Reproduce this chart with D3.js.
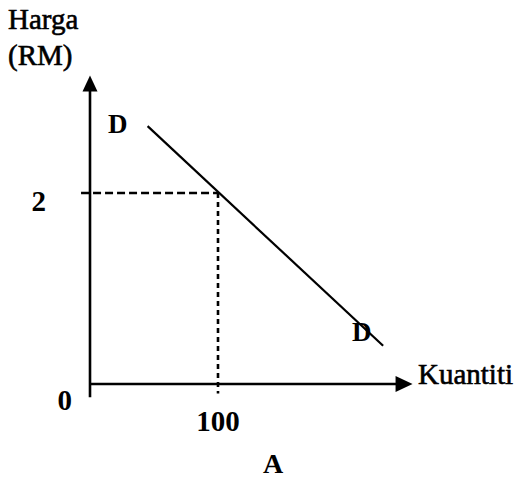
<!DOCTYPE html>
<html>
<head>
<meta charset="utf-8">
<script src="https://cdn.jsdelivr.net/npm/d3@7"></script>
<style>
  body { margin: 0; background: #fff; }
  text { font-family: "Liberation Serif", "Times New Roman", serif; fill: #000; }
  .scan { stroke: #000; stroke-width: 0.6; }
</style>
</head>
<body>
<div class="chart"></div>
<script>
// demand curve D-D
var demandQty = [45, 229];
var demandPrice = [2.70, 0.40];
// the marked point
var pointQty = 100;
var pointPrice = 2;
// tick labels
var xTickLabels = ["100"];
var yTickLabels = ["2"];
var originLabel = "0";
var xTitle = "Kuantiti";
var yTitle = ["Harga", "(RM)"];
var curveLabel = "D";
var panelLabel = "A";

var svgWidth = 520, svgHeight = 481;

var svg = d3.select(".chart")
  .append("svg")
  .attr("width", svgWidth)
  .attr("height", svgHeight);

// scales (origin at 90,384)
var xScale = d3.scaleLinear().domain([0, 100]).range([90, 218]);
var yScale = d3.scaleLinear().domain([0, 2]).range([384, 193]);

var x0 = xScale(0), y0 = yScale(0);
var yTop = yScale(3.23), xEnd = xScale(252);

// axes
svg.append("line")
  .attr("x1", x0).attr("y1", yScale(-0.14))
  .attr("x2", x0).attr("y2", yTop + 10)
  .attr("stroke", "#000").attr("stroke-width", 2.6);

svg.append("path")
  .attr("d", `M${x0},${yTop} L${x0 + 7.5},${yTop + 16} L${x0 - 7.5},${yTop + 16} Z`)
  .attr("fill", "#000");

svg.append("line")
  .attr("x1", x0).attr("y1", y0)
  .attr("x2", xEnd - 10).attr("y2", y0)
  .attr("stroke", "#000").attr("stroke-width", 2.6);

svg.append("path")
  .attr("d", `M${xEnd},${y0} L${xEnd - 17},${y0 - 8} L${xEnd - 17},${y0 + 8} Z`)
  .attr("fill", "#000");

// dashed guides
svg.append("line")
  .attr("x1", xScale(-7)).attr("y1", yScale(pointPrice))
  .attr("x2", xScale(pointQty)).attr("y2", yScale(pointPrice))
  .attr("stroke", "#000").attr("stroke-width", 2.4)
  .attr("stroke-dasharray", "8,4");

svg.append("line")
  .attr("x1", xScale(pointQty)).attr("y1", yScale(pointPrice))
  .attr("x2", xScale(pointQty)).attr("y2", yScale(-0.1))
  .attr("stroke", "#000").attr("stroke-width", 2.6)
  .attr("stroke-dasharray", "5,4");

// demand line
var demand = demandQty.map((q, i) => [q, demandPrice[i]]);
svg.append("path")
  .datum(demand)
  .attr("fill", "none")
  .attr("stroke", "#000")
  .attr("stroke-width", 2.2)
  .attr("d", d3.line().x(d => xScale(d[0])).y(d => yScale(d[1])));

// curve labels
svg.append("text")
  .attr("x", 108).attr("y", 133)
  .attr("font-size", 27).attr("font-weight", "bold")
  .text(curveLabel);

svg.append("text")
  .attr("x", 352).attr("y", 341)
  .attr("font-size", 27).attr("font-weight", "bold")
  .text(curveLabel);

// tick labels
svg.append("text")
  .attr("x", xScale(pointQty)).attr("y", 431)
  .attr("text-anchor", "middle")
  .attr("font-size", 29).attr("font-weight", "bold")
  .text(xTickLabels[0]);

svg.append("text")
  .attr("x", 46).attr("y", yScale(pointPrice) + 18)
  .attr("text-anchor", "end")
  .attr("font-size", 29).attr("font-weight", "bold")
  .text(yTickLabels[0]);

svg.append("text")
  .attr("x", 72).attr("y", 410)
  .attr("text-anchor", "end")
  .attr("font-size", 29).attr("font-weight", "bold")
  .text(originLabel);

// axis titles
svg.append("text")
  .attr("class", "scan")
  .attr("x", 418).attr("y", 384)
  .attr("font-size", 29)
  .text(xTitle);

svg.selectAll(".ytitle")
  .data(yTitle)
  .enter()
  .append("text")
  .attr("class", "ytitle scan")
  .attr("x", 8)
  .attr("y", (d, i) => 29 + i * 36)
  .attr("font-size", 29)
  .text(d => d);

// panel label
svg.append("text")
  .attr("x", 273).attr("y", 473)
  .attr("text-anchor", "middle")
  .attr("font-size", 28).attr("font-weight", "bold")
  .text(panelLabel);
</script>
</body>
</html>
